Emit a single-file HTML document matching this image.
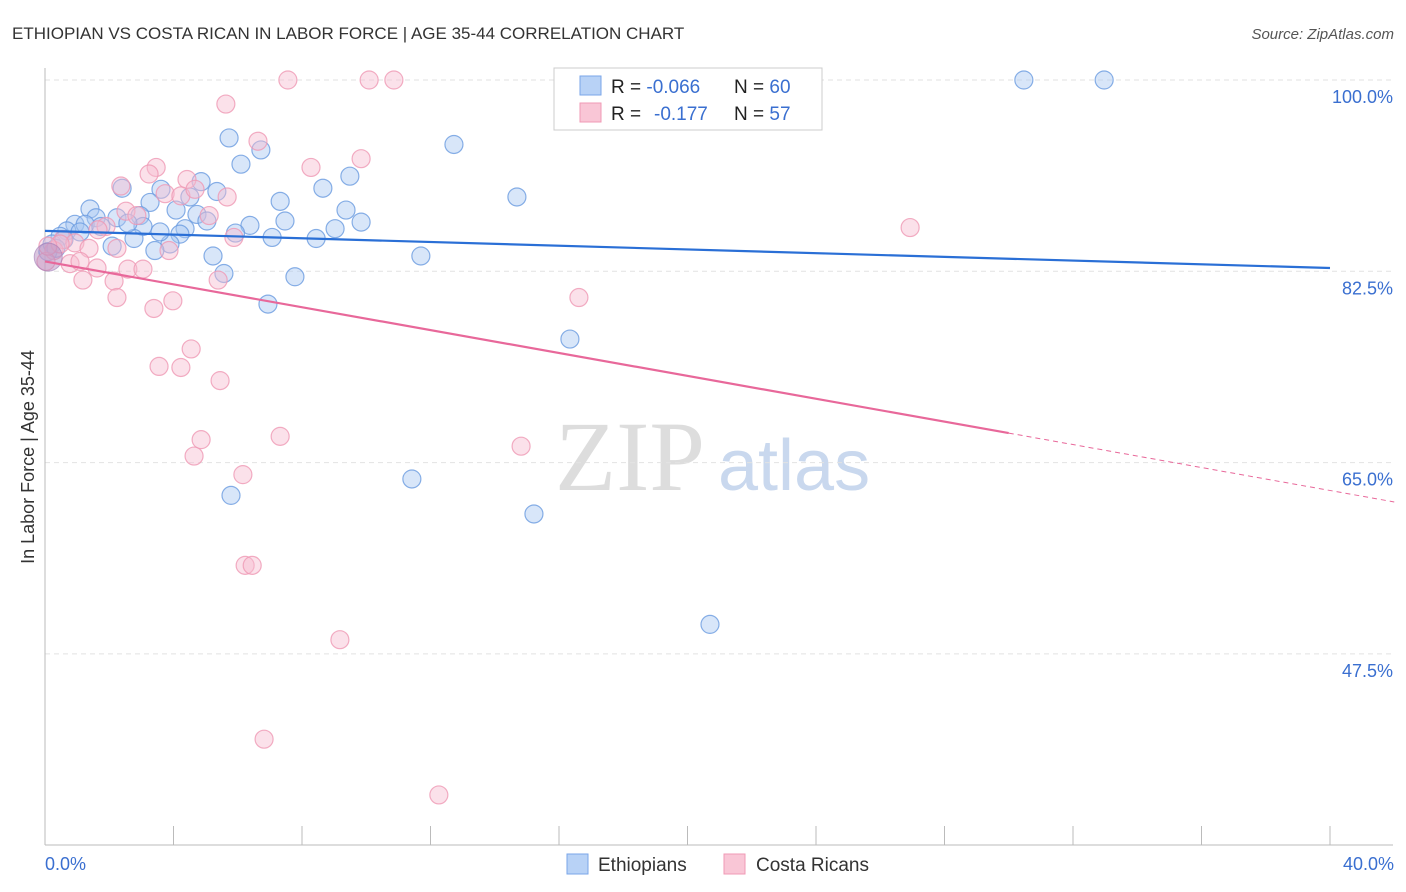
<!DOCTYPE html>
<html><head><meta charset="utf-8"><style>
body{margin:0;background:#fff;font-family:"Liberation Sans",sans-serif}
</style></head><body>
<svg width="1406" height="892" viewBox="0 0 1406 892" style="display:block">
<text x="12" y="39" font-size="17" fill="#333">ETHIOPIAN VS COSTA RICAN IN LABOR FORCE | AGE 35-44 CORRELATION CHART</text>
<text x="1394" y="39" font-size="15" fill="#555" text-anchor="end" font-style="italic">Source: ZipAtlas.com</text>
<text x="555" y="490" font-size="100" fill="#ddd" font-family="Liberation Serif,serif">ZIP</text>
<text x="718" y="490" font-size="72" fill="#c9d8ee">atlas</text>
<g id="grid"></g>
<g id="axes"></g>
<g id="pts"></g>
<g id="trend"></g>
<text transform="translate(34,457) rotate(-90)" font-size="18" fill="#333" text-anchor="middle">In Labor Force | Age 35-44</text>
<text x="45" y="870" font-size="18" fill="#3a6fd0">0.0%</text>
<text x="1394" y="870" font-size="18" fill="#3a6fd0" text-anchor="end">40.0%</text>
<g>
<rect x="554" y="68" width="268" height="62" fill="#fff" stroke="#ccc"/>
<rect x="580" y="76" width="21" height="19" fill="#b8d2f6" stroke="#7aa6e8"/>
<rect x="580" y="103" width="21" height="19" fill="#f9c6d6" stroke="#f09ab5"/>
<text x="611" y="93" font-size="19" fill="#222">R = <tspan fill="#3a6fd0">-0.066</tspan><tspan x="734">N = </tspan><tspan fill="#3a6fd0">60</tspan></text>
<text x="611" y="120" font-size="19" fill="#222">R = <tspan x="654" fill="#3a6fd0">-0.177</tspan><tspan x="734">N = </tspan><tspan fill="#3a6fd0">57</tspan></text>
</g>
<g>
<rect x="567" y="854" width="21" height="20" fill="#b8d2f6" stroke="#7aa6e8"/>
<text x="598" y="871" font-size="19" fill="#333">Ethiopians</text>
<rect x="724" y="854" width="21" height="20" fill="#f9c6d6" stroke="#f09ab5"/>
<text x="756" y="871" font-size="19" fill="#333">Costa Ricans</text>
</g>
</svg>
<script>
const blueX=[30.47,32.97,12.73,5.73,6.72,6.10,9.49,8.65,4.86,5.35,3.61,2.40,14.69,7.32,4.51,3.27,1.40,4.08,9.37,4.73,7.47,9.84,5.04,1.59,2.24,2.96,0.93,1.25,1.74,3.05,6.38,9.03,4.36,5.93,0.68,0.47,4.20,7.07,8.44,2.77,3.89,2.09,3.42,0.22,0.09,5.23,11.70,5.57,7.78,6.94,16.34,11.42,5.79,15.22,20.70,0.59,1.09,0.34,2.58,3.58];
const blueY=[100,100,94.1,94.7,93.6,92.3,91.2,90.1,90.7,89.8,90.0,90.1,89.3,88.9,89.3,88.8,88.2,88.1,88.1,87.7,87.1,87.0,87.1,87.4,87.4,87.6,86.8,86.8,86.6,86.6,86.7,86.4,86.4,86.0,86.2,85.7,85.9,85.6,85.5,85.5,85.0,84.8,84.4,85.0,84.3,83.9,83.9,82.3,82.0,79.5,76.3,63.5,62.0,60.3,50.2,85.4,86.1,84.6,86.9,86.1];
const pinkX=[7.56,10.09,10.86,5.63,6.63,8.28,9.84,3.46,3.24,4.42,2.36,3.74,4.23,5.11,2.52,2.86,26.93,1.90,5.88,0.56,0.93,1.37,2.24,3.86,0.28,0.78,1.62,2.58,3.05,1.18,2.15,5.39,2.24,3.98,3.39,16.62,4.55,3.55,4.23,5.45,4.86,7.32,4.64,14.82,6.16,6.23,6.45,9.18,6.82,12.26,0.03,1.09,0.47,4.67,5.67,1.65,0.09];
const pinkY=[100,100,100,97.8,94.4,92.0,92.8,92.0,91.4,90.9,90.3,89.6,89.4,87.6,88.0,87.6,86.5,86.6,85.6,85.4,85.1,84.6,84.6,84.4,84.4,83.2,82.8,82.7,82.7,81.7,81.6,81.7,80.1,79.8,79.1,80.1,75.4,73.8,73.7,72.5,67.1,67.4,65.6,66.5,63.9,55.6,55.6,48.8,39.7,34.6,83.4,83.4,85.0,90.0,89.3,86.3,84.8];
const yTicks=[100,82.5,65,47.5];
const yTickLabels=["100.0%","82.5%","65.0%","47.5%"];
const blueTrend=[[0,86.2],[40,82.8]];
const pinkTrend=[[0,83.4],[30,67.7]];
const pinkTrendDash=[[30,67.7],[42,61.4]];
const NS='http://www.w3.org/2000/svg';
const sx=v=>45+v/40*1285;
const sy=v=>80+(100-v)/17.5*191.3;
function mk(tag,attrs,parent){const e=document.createElementNS(NS,tag);for(const k in attrs)e.setAttribute(k,attrs[k]);document.getElementById(parent).appendChild(e);return e;}
yTicks.forEach((t,i)=>{
 const l=mk('line',{x1:45,x2:1393,y1:sy(t),y2:sy(t),stroke:'#e2e2e2','stroke-dasharray':'5,4'},'grid');
 
 
 const tx=mk('text',{x:1393,y:sy(t)+23,'font-size':18,fill:'#3a6fd0','text-anchor':'end'},'grid');
 tx.textContent=yTickLabels[i];
 
 
});
let a=mk('line',{x1:45,x2:45,y1:68,y2:845,stroke:'#bbb'},'axes');


a=mk('line',{x1:45,x2:1393,y1:845,y2:845,stroke:'#bbb'},'axes');


for(let i=0;i<=10;i++){
 const t=mk('line',{x1:sx(i*4),x2:sx(i*4),y1:826,y2:845,stroke:'#bbb'},'axes');
 
 
}
function pts(X,Y,fill,stroke,name){X.forEach((x,i)=>{
 const c=mk('circle',{cx:sx(x),cy:sy(Y[i]),r:9,fill:fill,'fill-opacity':0.45,stroke:stroke,'stroke-opacity':0.8,'stroke-width':1.2},'pts');
 
 
});}
pts(blueX,blueY,'#a9c8f2','#6a9be0','ethiopian-point');
pts(pinkX,pinkY,'#f7bdd0','#ef98b4','costa-rican-point');
let b=mk('circle',{cx:sx(0.1),cy:sy(83.8),r:14,fill:'#b58ec0','fill-opacity':0.5,stroke:'#a07ab5','stroke-opacity':0.6},'pts');


function ln(p,stroke,w,dash,name){const l=mk('line',{x1:sx(p[0][0]),y1:sy(p[0][1]),x2:sx(p[1][0]),y2:sy(p[1][1]),stroke:stroke,'stroke-width':w},'trend');if(dash)l.setAttribute('stroke-dasharray',dash);
 
 }
ln(blueTrend,'#2a6fd6',2.2,null,'ethiopian-trendline');
ln(pinkTrend,'#e8689a',2.2,null,'costa-rican-trendline');
ln(pinkTrendDash,'#e8689a',1,'5,4','costa-rican-trendline-extension');
</script>
</body></html>
